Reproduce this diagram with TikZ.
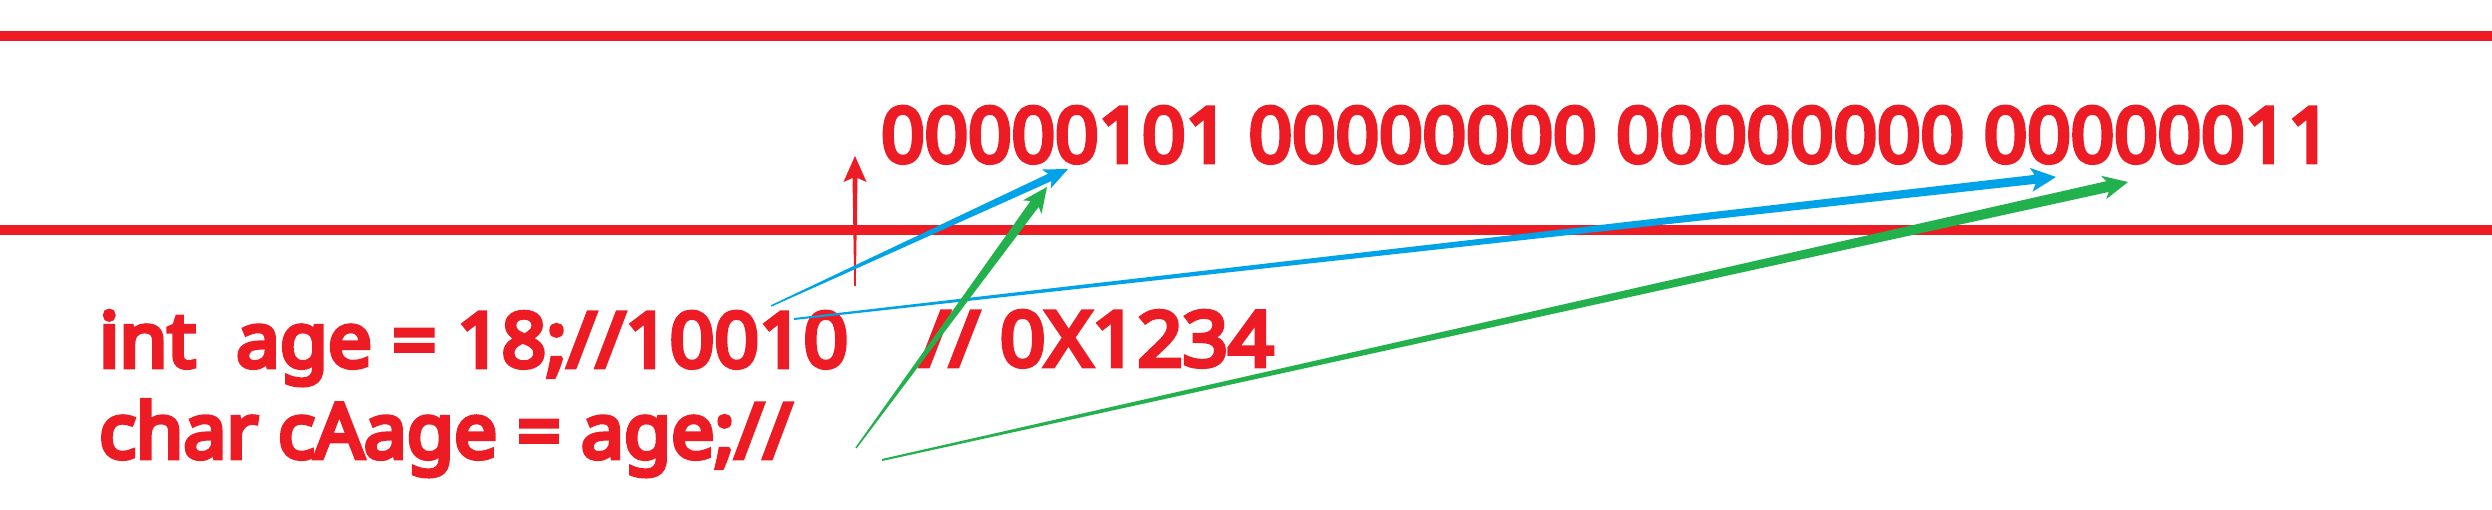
\documentclass[tikz,border=0pt]{standalone}
\usepackage{fontspec}
\newfontfamily\pfont{Noto Sans}[FakeBold=6]
\usetikzlibrary{calc}
\definecolor{pred}{HTML}{ED1C24}
\definecolor{pblue}{HTML}{00A2E8}
\definecolor{pgreen}{HTML}{22B14C}
% tapered arrow: colour, tail, tip, tail width, shaft width, head length, head half width
\newcommand{\taparrow}[7]{%
  \coordinate (hb) at ($(#3)!#6*1pt!(#2)$);
  \coordinate (hn) at ($(#3)!#6*1pt-4pt!(#2)$);
  \fill[#1] ($(#2)!#4*0.5pt!90:(#3)$) -- ($(hn)!#5*0.5pt!90:(#3)$)
    -- ($(hb)!#7*1pt!90:(#3)$) -- (#3) -- ($(hb)!#7*1pt!-90:(#3)$)
    -- ($(hn)!#5*0.5pt!-90:(#3)$) -- ($(#2)!#4*0.5pt!-90:(#3)$) -- cycle;
}
\tikzset{
  txt/.style={text=pred, font=\pfont\fontsize{76}{80}\selectfont, anchor=base west, inner sep=0pt},
  redline/.style={draw=pred, line width=10pt}
}
\begin{document}
\begin{tikzpicture}[x=1pt,y=-1pt]
\useasboundingbox[fill=white] (0,0) rectangle (2492,509);
% horizontal lines
\coordinate (l1a) at (0,36);
\coordinate (l1b) at (2492,36);
\coordinate (l2a) at (0,230);
\coordinate (l2b) at (2492,230);
\draw[redline] (l1a) -- (l1b);
\draw[redline] (l2a) -- (l2b);
% texts
\node[txt] (bin) at (881,162) {00000101 00000000 00000000 00000011};
\node[txt] (l1) at (99,367) {\scalebox{1.026}[1]{int\ \ age = 18;//10010}};
\node[txt] (l1c) at (920,366) {\scalebox{1.045}[1]{// 0X1234}};
\node[txt] (l2) at (99,458) {\scalebox{1.009}[1]{char cAage = age;//}};
% arrow end points
\coordinate (rt) at (855,286);
\coordinate (rh) at (855,156);
\coordinate (b1t) at (771,306);
\coordinate (b1h) at (1068,169);
\coordinate (b2t) at (794,319);
\coordinate (b2h) at (2056,177);
\coordinate (g1t) at (856,448);
\coordinate (g1h) at (1047,187);
\coordinate (g2t) at (882,460);
\coordinate (g2h) at (2128,182);
\taparrow{pred}{rt}{rh}{1.5}{5}{26}{11.5}
\taparrow{pblue}{b1t}{b1h}{1.5}{8}{24}{10.5}
\taparrow{pblue}{b2t}{b2h}{2}{9}{25}{12}
\taparrow{pgreen}{g1t}{g1h}{1.5}{10}{25}{11.5}
\taparrow{pgreen}{g2t}{g2h}{2}{11}{25}{12}
\end{tikzpicture}
\end{document}
